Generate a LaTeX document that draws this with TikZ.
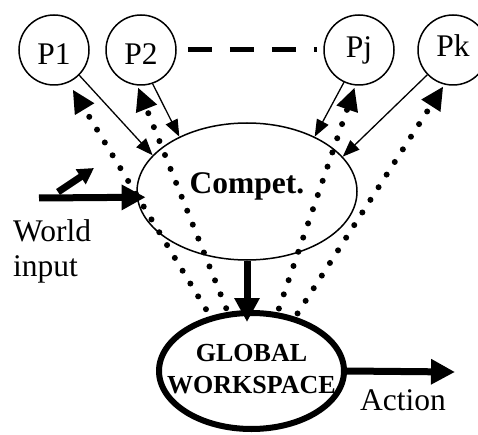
\documentclass[tikz,border=0pt]{standalone}
\usepackage{fontspec}
\setmainfont{Liberation Serif}
\usetikzlibrary{shapes.geometric,arrows.meta}
\begin{document}
\begin{tikzpicture}[x=1pt,y=-1pt,
    every node/.style={font=\fontsize{31.5}{35}\selectfont},
    proc/.style={draw,circle,line width=1.5pt,minimum size=70pt,inner sep=0pt},
    fwd/.style={line width=1.3pt,-{Triangle[length=17pt,width=13pt]}},
    bcast/.style={line width=6pt,line cap=round,dash pattern=on 0pt off 15pt,
      -{Triangle[length=23pt,width=21pt]}},
    heavy/.style={line width=7pt,-{Triangle[length=24pt,width=24pt]}}]
  \useasboundingbox (0,0) rectangle (478,435);
  % processors
  \node[proc,text height=29pt,text depth=0pt] (p1) at (54,50) {P1};
  \node[proc,text height=29pt,text depth=0pt] (p2) at (141,50) {P2};
  \node[proc] (pj) at (359,50) {Pj};
  \node[proc,text depth=8pt] (pk) at (453,50) {Pk};
  \draw[line width=5pt,dash pattern=on 24pt off 18pt,shorten <=11pt,shorten >=6pt]
    (p2.east) -- (pj.west);
  % competition and workspace
  \node[draw,ellipse,line width=1.5pt,minimum width=220pt,minimum height=137pt,
    inner sep=0pt,text depth=17pt,font=\fontsize{31.5}{35}\selectfont\bfseries]
    (compet) at (247,191.5) {Compet.};
  \node[draw,ellipse,line width=6pt,minimum width=185pt,minimum height=116pt,
    inner sep=0pt,font=\fontsize{26}{32}\selectfont\bfseries] (gw) at (251.5,371)
    {\makebox[0pt]{\begin{tabular}{@{}c@{}}GLOBAL\\WORKSPACE\end{tabular}}};
  \node[anchor=north west,align=left,inner sep=0pt] (world) at (13,219) {World\\input};
  \node[anchor=base west,inner sep=0pt] (act) at (360,410) {Action};
  \coordinate (wi) at (39,198);
  \coordinate (sa) at (58,192);
  \coordinate (sb) at (94,168);
  \coordinate (ae) at (455,372);
  % inputs to the competition
  \draw[fwd] (p1.-45) -- (compet.159);
  \draw[fwd] (p2.-71) -- (compet.141);
  \draw[fwd] (pj.-115) -- (compet.39);
  \draw[fwd] (pk.-136) -- (compet.20);
  % broadcast
  \draw[bcast,shorten <=8pt,shorten >=8pt] (gw.127) -- (p1.-66);
  \draw[bcast,shorten <=4pt,shorten >=2pt] (gw.112) -- (p2.-96);
  \draw[bcast,shorten <=4pt,shorten >=2pt] (gw.66) -- (pj.-96);
  \draw[bcast,shorten <=4pt,shorten >=2pt] (gw.51) -- (pk.-104);
  % thick arrows
  \draw[heavy,shorten >=-9pt] (wi) -- (compet.183);
  \draw[line width=7pt,-{Triangle[length=16pt,width=17pt]}] (sa) -- (sb);
  \draw[heavy,shorten >=-12pt] (compet.south) -- (compet.south |- gw.north);
  \draw[heavy] (gw.east) -- (ae);
\end{tikzpicture}
\end{document}
